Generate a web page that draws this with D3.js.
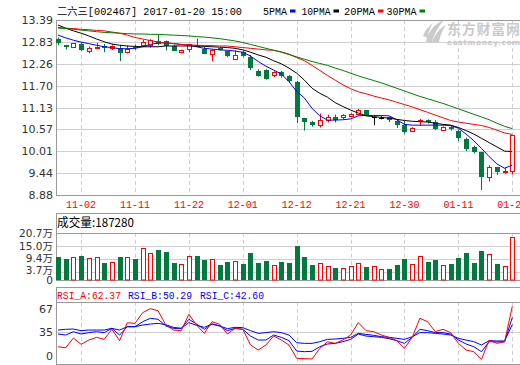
<!DOCTYPE html>
<html><head><meta charset="utf-8">
<script src="https://cdn.jsdelivr.net/npm/d3@7/dist/d3.min.js"></script>
<style>
html,body{margin:0;padding:0;background:#fff;}
svg{display:block;}
</style></head>
<body>
<svg id="c" width="520" height="365"></svg>
<script>
// ---------------- DATA ----------------
const dates = ["10-28","10-31","11-01","11-02","11-03","11-04","11-07","11-08","11-09","11-10",
"11-11","11-14","11-15","11-16","11-17","11-18","11-21","11-22","11-23","11-24",
"11-25","11-28","11-29","11-30","12-01","12-02","12-05","12-06","12-07","12-08",
"12-09","12-12","12-13","12-14","12-15","12-16","12-19","12-20","12-21","12-22",
"12-23","12-26","12-27","12-28","12-29","12-30","01-03","01-04","01-05","01-06",
"01-09","01-10","01-11","01-12","01-13","01-16","01-17","01-18","01-19","01-20"];
const open  = [12.89,12.75,12.70,12.77,12.59,12.68,12.71,12.69,12.66,12.56,
12.70,12.75,12.76,12.84,12.84,12.72,12.58,12.63,12.75,12.65,
12.51,12.67,12.58,12.39,12.57,12.43,12.07,12.10,11.97,12.06,
11.95,11.79,10.86,10.76,10.675,10.81,10.90,10.88,10.93,10.97,
11.07,10.90,10.865,10.88,10.78,10.69,10.54,10.78,10.81,10.76,
10.57,10.64,10.54,10.315,10.11,9.99,9.32,9.59,9.48,9.49];
const high  = [12.94,12.75,12.80,12.80,12.71,12.80,12.77,12.77,12.75,12.73,
12.75,12.88,12.90,13.02,12.86,12.74,12.63,12.77,12.91,12.70,
12.63,12.69,12.60,12.61,12.60,12.49,12.12,12.12,12.08,12.08,
11.97,11.82,10.87,10.79,10.98,10.95,10.95,10.96,10.99,11.10,
11.07,10.90,10.91,10.90,10.81,10.79,10.63,10.84,10.83,10.81,
10.66,10.67,10.57,10.36,10.15,9.99,9.645,9.59,9.59,10.43];
const low   = [12.74,12.63,12.70,12.59,12.53,12.64,12.56,12.62,12.33,12.53,
12.62,12.70,12.68,12.74,12.61,12.60,12.56,12.56,12.69,12.51,
12.33,12.60,12.43,12.37,12.43,12.10,11.93,11.85,11.92,11.90,
11.78,10.73,10.54,10.64,10.62,10.75,10.75,10.83,10.88,10.93,
10.92,10.68,10.83,10.76,10.61,10.45,10.52,10.66,10.72,10.55,
10.53,10.54,10.27,10.01,9.95,9.01,9.23,9.40,9.43,9.41];
const close = [12.78,12.71,12.80,12.61,12.66,12.70,12.65,12.73,12.53,12.64,
12.67,12.82,12.88,12.77,12.72,12.60,12.62,12.76,12.70,12.53,
12.62,12.62,12.45,12.49,12.46,12.135,11.95,11.88,12.06,11.95,
11.81,10.90,10.76,10.675,10.80,10.88,10.81,10.93,10.97,11.07,
10.95,10.90,10.865,10.795,10.675,10.50,10.61,10.80,10.76,10.59,
10.64,10.59,10.35,10.07,9.99,9.335,9.59,9.455,9.50,10.43];
const volume = [102000,93000,99000,105000,95000,99000,76000,79000,100600,99000,
93000,139000,118000,131000,122500,76000,70000,103500,103500,87500,
90500,65600,79000,81700,70000,118000,76000,83000,64000,79000,
74000,149000,100700,65700,73000,60000,52500,51000,60000,73000,
57000,60000,48000,48000,64000,92000,70000,103600,79000,87500,
64000,70000,97800,119600,74000,127000,113800,70000,61300,187280];
const ma5  = [13.00,12.93,12.87,12.82,12.78,12.74,12.70,12.68,12.65,12.65,
12.66,12.70,12.76,12.80,12.80,12.78,12.76,12.74,12.70,12.66,
12.64,12.62,12.61,12.59,12.56,12.46,12.32,12.20,12.10,12.00,
11.80,11.55,11.38,11.11,10.92,10.81,10.81,10.82,10.84,10.92,
10.93,10.93,10.93,10.92,10.82,10.70,10.68,10.68,10.68,10.68,
10.68,10.67,10.60,10.45,10.28,10.08,9.87,9.68,9.57,9.65];
const ma10 = [13.26,13.18,13.11,13.05,12.98,12.90,12.83,12.77,12.74,12.72,
12.71,12.70,12.70,12.70,12.72,12.72,12.72,12.72,12.72,12.71,
12.70,12.69,12.68,12.66,12.62,12.56,12.49,12.43,12.34,12.26,
12.15,12.02,11.84,11.63,11.50,11.40,11.26,11.16,11.07,10.99,
10.92,10.90,10.88,10.86,10.83,10.80,10.78,10.77,10.76,10.73,
10.70,10.68,10.62,10.54,10.45,10.34,10.23,10.12,10.01,10.00];
const ma20 = [13.20,13.18,13.17,13.15,13.14,13.12,13.11,13.08,13.05,13.00,
12.94,12.90,12.86,12.82,12.80,12.78,12.76,12.75,12.74,12.73,
12.73,12.72,12.72,12.70,12.68,12.66,12.64,12.62,12.61,12.57,
12.51,12.42,12.34,12.22,12.09,11.96,11.84,11.72,11.62,11.54,
11.49,11.43,11.38,11.33,11.27,11.21,11.15,11.08,11.01,10.94,
10.87,10.80,10.76,10.73,10.70,10.67,10.62,10.55,10.48,10.44];
const ma30 = [13.18,13.17,13.15,13.13,13.11,13.09,13.07,13.06,13.05,13.04,
13.03,13.03,13.02,13.02,13.01,13.00,12.99,12.98,12.96,12.95,
12.93,12.91,12.88,12.85,12.81,12.76,12.71,12.66,12.61,12.56,
12.50,12.44,12.38,12.32,12.27,12.22,12.15,12.09,12.02,11.95,
11.89,11.83,11.77,11.70,11.63,11.56,11.49,11.42,11.36,11.30,
11.24,11.17,11.10,11.03,10.96,10.89,10.82,10.73,10.65,10.59];
const rsiA = [18.7,17.5,28,21.3,25.9,28.8,26.7,37.5,25.2,44.6,
43.9,55.5,59.8,57.5,42.1,36.7,36,53.7,42,33.1,
45.7,42.9,32.4,38.5,37.5,20.6,15.1,20.5,30.3,25.9,
20.5,6.1,5.8,5.4,16.9,24,22.3,25.9,31.3,44.7,
36,35,31.3,28.8,25.2,16.9,28.8,49.4,45.7,35,
37.5,33.9,22.3,15.1,13.3,5,25.9,22.3,24,62.37];
const rsiB = [32.4,31.3,34.9,32.4,33.9,34.9,33.9,38.5,31.3,40.3,
40.3,45.7,49.4,48.3,41.1,38.5,38.5,48.3,43.2,37.5,
43.2,41.1,36,38.5,37.5,30.2,25.9,25.9,31.3,28.8,
25.2,14,13.3,13.7,18.7,21.6,22.3,24.1,26.6,32.4,
30.2,29.5,28.8,27.4,25.2,22.3,28.8,37.5,36,33.9,
33.9,32.4,25.9,21.6,18.7,13.3,24.1,23.8,24.1,50.29];
const rsiC = [36.7,37.5,37.8,36,36.7,36.7,36.7,38.5,36.7,40.3,
40.3,42.1,43.2,43.9,42.5,39.6,38.5,44.7,41.8,39.6,
43.2,41.1,38.2,39.6,39.3,36,33.1,33.9,34.9,33.9,
31.3,23,22.3,22.3,24.1,26.6,27,27.7,28.8,33.1,
32,31,29.5,28.8,27.7,26.6,29.5,33.9,33.9,33.1,
32.4,31.3,27.7,25.9,24.1,20.5,25.2,24.9,24.9,42.6];
const priceTicks = [13.39,12.83,12.26,11.70,11.13,10.57,10.01,9.44,8.88];
const priceTickLabels = ["13.39","12.83","12.26","11.70","11.13","10.57","10.01","9.44","8.88"];
const volTicks = [207000,150000,94000,37000,0];
const volTickLabels = ["20.7万","15.0万","9.4万","3.7万","0"];
const rsiTicks = [67,35,0];
const dateTicks = ["11-02","11-11","11-22","12-01","12-12","12-21","12-30","01-11","01-20"];
const titleText = "二六三[002467] 2017-01-20 15:00";
const maNames = ["5PMA","10PMA","20PMA","30PMA"];
const volTitle = "成交量:187280";
const rsiNames = ["RSI_A:62.37","RSI_B:50.29","RSI_C:42.60"];

// ---------------- DRAW ----------------
const RED = "#ff0000", GREEN = "#007a3d", BLUE = "#0000ff";
const GRID = "#cfcfcf", FRAME = "#999999";
const svg = d3.select("#c");
const L = 56, R = 520;
const P = {top:20, bottom:195};
const V = {frame:213, top:232.7, bottom:280};
const S = {frame:287, top:302, bottom:364};

const x = d3.scalePoint().domain(dates).range([58, 512.3]);
const yP = d3.scaleLinear().domain([8.88, 13.39]).range([P.bottom, P.top]);
const yV = d3.scaleLinear().domain([0, 207000]).range([V.bottom, V.top]);
const yS = d3.scaleLinear().domain([0, 67]).range([S.bottom, S.top]);
const px = d => Math.round(x(d)) + 0.5;
const hl = v => Math.round(v) + 0.5;

const g = svg.append("g");
g.selectAll(".hp").data(priceTicks).join("line")
  .attr("x1", L).attr("x2", R).attr("y1", d => hl(yP(d))).attr("y2", d => hl(yP(d)))
  .attr("stroke", GRID);
g.selectAll(".hv").data(volTicks.slice(1, 4)).join("line")
  .attr("x1", L).attr("x2", R).attr("y1", d => hl(yV(d))).attr("y2", d => hl(yV(d)))
  .attr("stroke", GRID);
g.append("line").attr("x1", L).attr("x2", R).attr("y1", hl(yS(35))).attr("y2", hl(yS(35))).attr("stroke", GRID);

[[P.top, P.bottom], [V.top, V.bottom], [S.top, S.bottom]].forEach(([a, b]) => {
  g.selectAll(null).data(dateTicks).join("line")
    .attr("x1", d => px(d)).attr("x2", d => px(d)).attr("y1", a).attr("y2", b)
    .attr("stroke", GRID).attr("stroke-dasharray", "4,3");
});

function hline(y) { g.append("line").attr("x1", L).attr("x2", R).attr("y1", hl(y)).attr("y2", hl(y)).attr("stroke", FRAME); }
function vline(a, b) { g.append("line").attr("x1", L + 0.5).attr("x2", L + 0.5).attr("y1", a).attr("y2", b).attr("stroke", FRAME); }
hline(P.top); hline(P.bottom); vline(P.top, P.bottom + 0.5);
hline(V.frame); hline(V.top); hline(V.bottom); vline(V.frame, V.bottom + 0.5);
hline(S.frame); hline(S.top); hline(S.bottom); vline(S.frame, S.bottom + 0.5);

// watermark
const wm = svg.append("g").attr("fill", "#cacaca");
wm.append("path").attr("d", "M426,42 C428,32 434,24 444,20 C438,27 434,34 432,42 Z");
wm.append("path").attr("d", "M432,42 C436,33 440,28 446,25 C442,31 440,36 439,42 Z");
wm.append("path").attr("d", "M423,36 C425,30 429,26 433,23 C430,28 428,32 428,38 Z");
wm.append("text").attr("x", 447).attr("y", 34).attr("font-family", "Noto Sans CJK SC")
  .attr("font-weight", "bold").attr("font-size", 14).attr("textLength", 73).text("东方财富网");
wm.append("text").attr("x", 447).attr("y", 44.5).attr("font-family", "DejaVu Sans")
  .attr("font-weight", "bold").attr("font-size", 7.5).attr("textLength", 73).text("eastmoney.com");

// candles
const idx = d3.range(dates.length);
const cg = svg.append("g");
idx.forEach(i => {
  const cx = px(dates[i]);
  const o = open[i], c = close[i], h = high[i], l = low[i];
  const up = c > o, doji = c === o;
  const col = doji ? "#000" : (up ? RED : GREEN);
  const top = yP(Math.max(o, c)), bot = yP(Math.min(o, c));
  if (up) {
    cg.append("line").attr("x1", cx).attr("x2", cx).attr("y1", yP(h)).attr("y2", top).attr("stroke", col);
    cg.append("line").attr("x1", cx).attr("x2", cx).attr("y1", bot).attr("y2", yP(l)).attr("stroke", col);
    cg.append("rect").attr("x", cx - 2).attr("y", hl(top)).attr("width", 4)
      .attr("height", Math.max(1, Math.round(bot - top))).attr("fill", "#fff").attr("stroke", col);
  } else {
    cg.append("line").attr("x1", cx).attr("x2", cx).attr("y1", yP(h)).attr("y2", yP(l)).attr("stroke", col);
    if (doji) {
      cg.append("line").attr("x1", cx - 2.5).attr("x2", cx + 2.5).attr("y1", hl(top)).attr("y2", hl(top)).attr("stroke", col);
    } else {
      cg.append("rect").attr("x", cx - 2.5).attr("y", Math.round(top)).attr("width", 5)
        .attr("height", Math.max(1, Math.round(bot - top))).attr("fill", col);
    }
  }
});

// MA lines
const mline = d3.line().x((d, i) => x(dates[i])).y(d => yP(d));
[[ma5, BLUE], [ma10, "#000"], [ma20, RED], [ma30, "#008000"]].forEach(([arr, col]) => {
  svg.append("path").attr("d", mline(arr)).attr("fill", "none").attr("stroke", col).attr("stroke-width", 1);
});

// volume bars
const vg = svg.append("g");
idx.forEach(i => {
  const cx = px(dates[i]);
  const up = close[i] >= open[i];
  const t = yV(volume[i]);
  if (up) {
    vg.append("rect").attr("x", cx - 2).attr("y", hl(t)).attr("width", 4)
      .attr("height", V.bottom - hl(t)).attr("fill", "#fff").attr("stroke", RED);
  } else {
    vg.append("rect").attr("x", cx - 2.5).attr("y", Math.round(t)).attr("width", 5)
      .attr("height", V.bottom - Math.round(t)).attr("fill", GREEN);
  }
});

// RSI lines
const sline = d3.line().x((d, i) => x(dates[i])).y(d => yS(d));
[[rsiC, BLUE], [rsiB, BLUE], [rsiA, RED]].forEach(([arr, col]) => {
  svg.append("path").attr("d", sline(arr)).attr("fill", "none").attr("stroke", col).attr("stroke-width", 1);
});

// axis labels
const lab = svg.append("g").attr("font-family", "DejaVu Sans, Noto Sans CJK SC").attr("font-size", 11)
  .attr("fill", "#333").attr("text-anchor", "end");
priceTicks.forEach((t, k) => lab.append("text").attr("x", 53).attr("y", yP(t)).attr("dy", "0.36em").text(priceTickLabels[k]));
const volOff = [0.5, 0, 0, -1.5, 0.5];
volTicks.forEach((t, k) => lab.append("text").attr("x", 53).attr("y", yV(t) + volOff[k]).attr("dy", "0.36em")
  .attr("font-size", 10.5).text(volTickLabels[k]));
rsiTicks.forEach((t, k) => {
  const off = k === 0 ? 7 : (k === 2 ? -8 : 0);
  lab.append("text").attr("x", 53).attr("y", yS(t) + off).attr("dy", "0.36em").text(String(t));
});

// date labels
svg.append("g").selectAll("text").data(dateTicks).join("text")
  .attr("x", d => x(d)).attr("y", 207.5).attr("text-anchor", "middle")
  .attr("font-family", "Liberation Mono").attr("font-size", 10).attr("fill", RED)
  .text(d => d);

// title & legend
svg.append("text").attr("x", 57).attr("y", 14.5).attr("font-family", "Liberation Mono, Noto Sans CJK SC")
  .attr("font-size", 10).attr("fill", "#000").attr("textLength", 185).attr("lengthAdjust", "spacingAndGlyphs").text(titleText);
const legX = [263, 301.5, 344, 386.5];
const legW = [24, 29, 31, 30];
const legC = [BLUE, "#000", RED, "#008000"];
maNames.forEach((n, k) => {
  svg.append("text").attr("x", legX[k]).attr("y", 14.5).attr("font-family", "Liberation Mono")
    .attr("font-size", 10).attr("fill", "#000").attr("textLength", legW[k]).attr("lengthAdjust", "spacingAndGlyphs").text(n);
  svg.append("rect").attr("x", legX[k] + legW[k] + 3).attr("y", 9.5).attr("width", 5.5).attr("height", 3).attr("fill", legC[k]);
});

// volume title
svg.append("text").attr("x", 57).attr("y", 227).attr("font-family", "Noto Sans CJK SC")
  .attr("font-size", 12).attr("fill", "#000").attr("textLength", 77).attr("lengthAdjust", "spacingAndGlyphs").text(volTitle);

// RSI title
const rsiX = [57, 128, 200];
const rsiCol = [RED, BLUE, BLUE];
rsiNames.forEach((n, k) => {
  svg.append("text").attr("x", rsiX[k]).attr("y", 298.5).attr("font-family", "Liberation Mono")
    .attr("font-size", 10.5).attr("fill", rsiCol[k]).attr("textLength", 64).attr("lengthAdjust", "spacingAndGlyphs").text(n);
});
</script>
</body></html>
